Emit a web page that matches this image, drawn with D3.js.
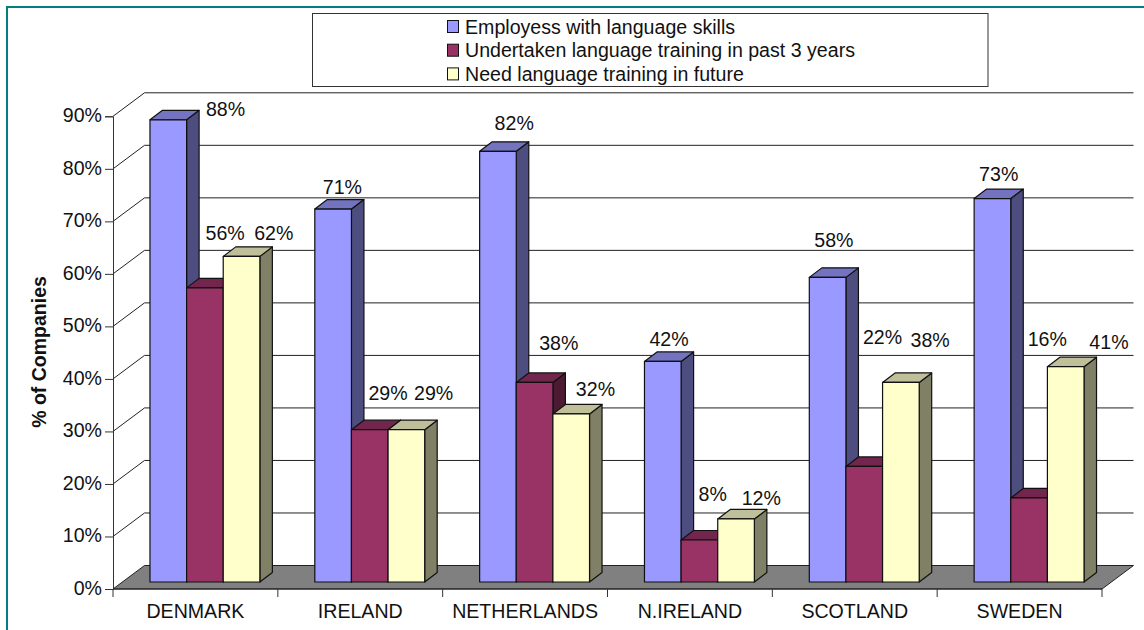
<!DOCTYPE html>
<html>
<head>
<meta charset="utf-8">
<script src="https://cdn.jsdelivr.net/npm/d3@7/dist/d3.min.js"></script>
<style>
  html, body { margin: 0; padding: 0; background: #fff; }
  svg { display: block; }
  text { font-family: "Liberation Sans", Arial, sans-serif; fill: #111; }
</style>
</head>
<body>
<svg id="chart" width="1144" height="630"></svg>
<script>
// Survey results per country
const countries = ["DENMARK", "IRELAND", "NETHERLANDS", "N.IRELAND", "SCOTLAND", "SWEDEN"];
const seriesNames = [
  "Employess with language skills",
  "Undertaken language training in past 3 years",
  "Need language training in future"
];
const languageSkills = [88, 71, 82, 42, 58, 73];
const pastTraining = [56, 29, 38, 8, 22, 16];
const futureTraining = [62, 29, 32, 12, 38, 41];
const yTicks = [0, 10, 20, 30, 40, 50, 60, 70, 80, 90];

// Hand-placed data label shifts [dx, dy], one row per series
const labelShiftSkills = [[51, 8], [3, -3], [10, -9], [0, -3], [0, -18], [0, -6]];
const labelShiftPast = [[14, -36], [12, -18], [18, -20], [7, -27], [12, -111], [12, -140]];
const labelShiftFuture = [[26, -4], [21, -18], [18, -6], [19, -2], [23, -23], [37, -6]];

const seriesValues = [languageSkills, pastTraining, futureTraining];
const seriesShifts = [labelShiftSkills, labelShiftPast, labelShiftFuture];
const seriesColors = [
  { front: "#9999ff", top: "#7373bf", side: "#4d4d80" },
  { front: "#993366", top: "#73264d", side: "#4d1a33" },
  { front: "#ffffcc", top: "#bfbf99", side: "#808066" }
];

const FONT = 19.6;
const left = 113, right = 1102, base = 589, top90 = 116.3;
const wallDx = 31.5, wallDy = 23.5;   // depth of the chart box
const barInX = 9.5, barInY = 7;       // bars stand this far back on the floor
const barDx = 12.5, barDy = 9.5;      // depth of each bar

const svg = d3.select("#chart");

const y = d3.scaleLinear().domain([0, 90]).range([base, top90]);
const x0 = d3.scaleBand().domain(countries).range([left, right])
  .paddingInner(1 / 3).paddingOuter(1 / 6);
const x1 = d3.scaleBand().domain(d3.range(seriesNames.length)).range([0, x0.bandwidth()]);

// Page frame: top and left rules only
svg.append("path")
  .attr("d", "M7,630V7H1144")
  .attr("fill", "none").attr("stroke", "#008080").attr("stroke-width", 2);

// Back wall gridlines and their runs along the left wall
const grid = svg.append("g").attr("stroke", "#222").attr("stroke-width", 1).attr("fill", "none");
grid.selectAll("path").data(yTicks.filter(t => t > 0)).join("path")
  .attr("d", t => `M${left},${y(t)}L${left + wallDx},${y(t) - wallDy}H${right + wallDx}`);

// Floor
svg.append("path")
  .attr("d", `M${left},${base}L${left + wallDx},${base - wallDy}H${right + wallDx}L${right},${base}Z`)
  .attr("fill", "#808080").attr("stroke", "#222").attr("stroke-width", 1);

// Value axis
const yAxis = svg.append("g").attr("transform", `translate(${left},0)`)
  .call(d3.axisLeft(y).tickValues(yTicks).tickFormat(d => d + "%").tickSize(8).tickPadding(3));
yAxis.selectAll("text").style("font-size", FONT + "px")
  .style("font-family", '"Liberation Sans", Arial, sans-serif')
  .attr("fill", "#111")
  .attr("dy", "0.28em");
yAxis.selectAll("path, line").attr("stroke", "#333");

// Category axis: tick marks fall on the category boundaries
const step = x0.step();
const boundaryTicks = d3.range(countries.length + 1);
const catAxis = svg.append("g");
catAxis.append("line")
  .attr("x1", left).attr("x2", right).attr("y1", base).attr("y2", base)
  .attr("stroke", "#222");
catAxis.selectAll("line.tick").data(boundaryTicks).join("line")
  .attr("class", "tick")
  .attr("x1", i => left + i * step).attr("x2", i => left + i * step)
  .attr("y1", base).attr("y2", base + 8)
  .attr("stroke", "#333");
catAxis.selectAll("text").data(countries).join("text")
  .attr("x", d => x0(d) + x0.bandwidth() / 2)
  .attr("y", 618)
  .attr("text-anchor", "middle")
  .style("font-size", FONT + "px")
  .text(d => d);

// Value axis title
svg.append("text")
  .attr("transform", "translate(46,352) rotate(-90)")
  .attr("text-anchor", "middle")
  .style("font-size", "19.5px").style("font-weight", "bold")
  .text("% of Companies");

// Bars, each a front face with a top and a right side
const bars = svg.append("g").attr("stroke", "#111").attr("stroke-width", 1.2).attr("stroke-linejoin", "round");
countries.forEach((country, c) => {
  seriesValues.forEach((vals, s) => {
    const v = vals[c], col = seriesColors[s];
    const xL = x0(country) + x1(s) + barInX, xR = xL + x1.bandwidth();
    const yT = y(v) - barInY, yB = y(0) - barInY;
    const g = bars.append("g");
    g.append("path")
      .attr("d", `M${xR},${yT}L${xR + barDx},${yT - barDy}V${yB - barDy}L${xR},${yB}Z`)
      .attr("fill", col.side);
    g.append("path")
      .attr("d", `M${xL},${yT}L${xL + barDx},${yT - barDy}H${xR + barDx}L${xR},${yT}Z`)
      .attr("fill", col.top);
    g.append("rect")
      .attr("x", xL).attr("y", yT)
      .attr("width", x1.bandwidth()).attr("height", yB - yT)
      .attr("fill", col.front);
  });
});

// Data labels
const labels = svg.append("g");
countries.forEach((country, c) => {
  seriesValues.forEach((vals, s) => {
    const v = vals[c], shift = seriesShifts[s][c];
    labels.append("text")
      .attr("x", x0(country) + x1(s) + x1.bandwidth() / 2 + barInX + barDx / 2 + shift[0])
      .attr("y", y(v) - barInY - barDy - 9.5 + shift[1])
      .attr("dy", "0.36em")
      .attr("text-anchor", "middle")
      .style("font-size", FONT + "px")
      .text(v + "%");
  });
});

// Legend
const legend = svg.append("g");
legend.append("rect")
  .attr("x", 312.5).attr("y", 13.5).attr("width", 675.5).attr("height", 73)
  .attr("fill", "#fff").attr("stroke", "#333");
const legendRows = legend.selectAll("g").data(seriesNames).join("g")
  .attr("transform", (d, i) => `translate(447.5,${26.5 + i * 23.7})`);
legendRows.append("rect")
  .attr("x", 0).attr("y", -6).attr("width", 11).attr("height", 12)
  .attr("fill", (d, i) => seriesColors[i].front)
  .attr("stroke", "#111");
legendRows.append("text")
  .attr("x", 17.5).attr("dy", "0.36em")
  .style("font-size", FONT + "px")
  .text(d => d);
</script>
</body>
</html>
